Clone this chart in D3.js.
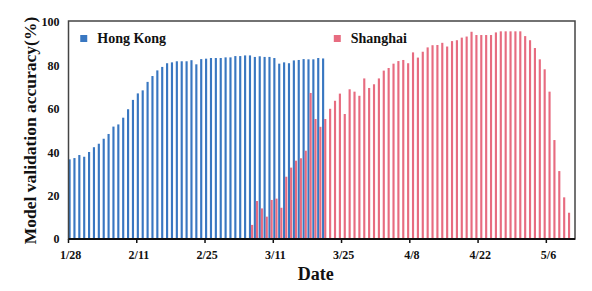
<!DOCTYPE html>
<html>
<head>
<meta charset="utf-8">
<script src="https://cdn.jsdelivr.net/npm/d3@7"></script>
<style>
    body { margin: 0; background: #fff; }
    #chart { width: 592px; height: 291px; }
    .axis text { font-family: "Liberation Serif", "Times New Roman", serif; font-weight: bold; font-size: 12px; fill: #111; }
    .title { font-family: "Liberation Serif", "Times New Roman", serif; font-weight: bold; fill: #111; }
</style>
</head>
<body>
<div id="chart"></div>
<script>
//Datos
const firstDay = new Date(2022, 0, 28), lastDay = new Date(2022, 4, 12);
const tickLabels = ['1/28', '2/11', '2/25', '3/11', '3/25', '4/8', '4/22', '5/6'];
const yTicks = [0, 20, 40, 60, 80, 100];

//Hong Kong: del 1/28 al 3/21
const hongKongStart = '1/28';
const hongKong = [36.7, 37.3, 38.7, 37.9, 40.1, 42.3, 43.9, 46.2, 48.4, 51.8,
    52.8, 55.9, 59.8, 64.1, 67.1, 68.5, 72.4, 75.1, 77.7, 79.3,
    81.0, 81.4, 81.9, 81.9, 81.9, 82.4, 80.5, 82.9, 83.1, 83.4,
    83.4, 83.4, 83.7, 83.7, 84.3, 84.3, 84.6, 84.6, 83.9, 84.2,
    83.9, 83.9, 83.4, 80.8, 81.4, 81.0, 82.3, 82.5, 82.9, 82.8,
    82.8, 83.4, 83.2];

//Shanghai: del 3/6 al 5/10
const shanghaiStart = '3/6';
const shanghai = [6.5, 17.5, 14.1, 10.3, 18.0, 18.6, 14.4, 28.7, 32.9, 36.1,
    37.2, 40.7, 67.3, 55.3, 51.7, 55.3, 60.0, 63.7, 67.0, 57.6,
    69.0, 67.9, 66.0, 74.0, 69.6, 71.3, 74.0, 77.6, 78.8, 80.8,
    82.0, 82.5, 81.0, 86.0, 83.6, 86.3, 88.3, 89.3, 89.4, 90.4,
    88.7, 91.2, 91.6, 92.8, 93.3, 95.5, 94.0, 94.0, 94.0, 94.0,
    95.2, 95.7, 95.7, 95.7, 95.7, 95.7, 93.5, 91.6, 88.0, 82.8,
    78.2, 67.9, 45.6, 31.3, 19.2, 12.1];

//Colores fijos
const COLOR_HK = '#3977c1',
COLOR_SH = '#e76c80';

let fmt = d3.timeFormat('%-m/%-d');
let days = d3.timeDay.range(firstDay, lastDay).map(fmt);

let margin = {top: 22, right: 17, bottom: 52, left: 68.5},
    width = 592 - margin.left - margin.right,
    height = 291 - margin.top - margin.bottom;

let svg = d3.select('#chart')
    .append('svg')
        .attr('width', 592)
        .attr('height', 291)
    .append('g')
        .attr('transform', 'translate(' + margin.left + ',' + margin.top + ')');

let x = d3.scaleBand()
    .domain(days)
    .range([0, width])
    .paddingInner(0.12)
    .paddingOuter(0);

let x1 = d3.scaleBand()
    .domain(['hk', 'sh'])
    .range([0, x.bandwidth()]);

let y = d3.scaleLinear()
    .domain([0, 100])
    .range([height, 0]);

//Series en formato largo
function toRows(values, start, key) {
    let s = days.indexOf(start);
    return values.map(function(v, i) { return {day: days[s + i], value: v, key: key}; });
}
let rows = toRows(hongKong, hongKongStart, 'hk').concat(toRows(shanghai, shanghaiStart, 'sh'));

//Barras
svg.selectAll('.bar')
    .data(rows)
    .enter()
    .append('rect')
    .attr('class', 'bar')
    .attr('x', function(d) { return x(d.day) + x1(d.key); })
    .attr('width', x1.bandwidth())
    .attr('y', function(d) { return y(d.value); })
    .attr('height', function(d) { return height - y(d.value); })
    .attr('fill', function(d) { return d.key == 'hk' ? COLOR_HK : COLOR_SH; });

//Eje X
let xAxis = function(g) {
    g.call(d3.axisBottom(x).tickValues(tickLabels).tickSizeInner(4).tickSizeOuter(0).tickPadding(7));
    g.call(function(g) { g.select('.domain').remove(); });
    g.call(function(g) {
        g.selectAll('.tick line')
            .attr('x1', -x.step() / 2 + x.step() * x.paddingInner() / 2)
            .attr('x2', -x.step() / 2 + x.step() * x.paddingInner() / 2)
            .attr('stroke', '#111')
            .attr('stroke-width', 1.5);
    });
}

svg.append('g')
    .attr('class', 'axis')
    .attr('transform', 'translate(0,' + height + ')')
    .call(xAxis);

//Eje Y
svg.append('g')
    .attr('class', 'axis')
    .call(d3.axisLeft(y).tickValues(yTicks).tickSize(0).tickPadding(9))
    .call(function(g) { g.select('.domain').remove(); });

//Marco
svg.append('rect')
    .attr('x', 0)
    .attr('y', -1)
    .attr('width', width)
    .attr('height', height + 1)
    .attr('fill', 'none')
    .attr('stroke', '#444')
    .attr('stroke-width', 1.5);

svg.append('line')
    .attr('x1', 0)
    .attr('x2', width)
    .attr('y1', height)
    .attr('y2', height)
    .attr('stroke', '#111')
    .attr('stroke-width', 2);

//Leyenda
let legend = [{label: 'Hong Kong', color: COLOR_HK, day: '1/30'}, {label: 'Shanghai', color: COLOR_SH, day: '3/23'}];

let items = svg.selectAll('.legend')
    .data(legend)
    .enter()
    .append('g')
    .attr('class', 'legend')
    .attr('transform', function(d) { return 'translate(' + (x(d.day) + 2) + ',13)'; });

items.append('rect')
    .attr('width', 7)
    .attr('height', 7)
    .attr('fill', function(d) { return d.color; });

items.append('text')
    .attr('class', 'title')
    .attr('x', 17)
    .attr('y', 8)
    .style('font-size', '14px')
    .text(function(d) { return d.label; });

//Títulos
svg.append('text')
    .attr('class', 'title')
    .attr('x', width / 2 - 6)
    .attr('y', height + 41)
    .attr('text-anchor', 'middle')
    .style('font-size', '18px')
    .text('Date');

svg.append('text')
    .attr('class', 'title')
    .attr('transform', 'translate(-33,' + (height / 2) + ') rotate(-90)')
    .attr('text-anchor', 'middle')
    .style('font-size', '17.5px')
    .text('Model validation accuracy(%)');
</script>
</body>
</html>
